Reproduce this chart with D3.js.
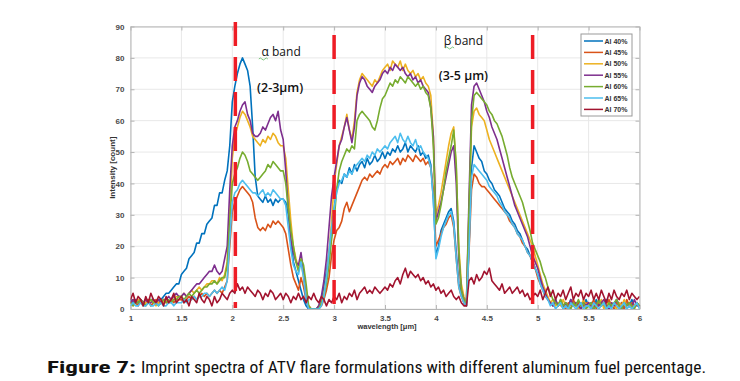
<!DOCTYPE html>
<html><head><meta charset="utf-8">
<script src="https://cdn.jsdelivr.net/npm/d3@7"></script>
<style>html,body{margin:0;padding:0;background:#fff;}svg{display:block;}</style>
</head><body>
<svg id="chart" width="740" height="381"></svg>
<script>
// ---- data ----
const wavelength = d3.range(201).map(i => +(1 + i * 0.025).toFixed(3));
const seriesNames = ["Al 40%","Al 45%","Al 50%","Al 55%","Al 60%","Al 65%","Al 70%"];
const al40 = [3,2,3,2,3,2,3,2,3,3,2,3,3,4,5,5,6,7,8,8,
 11,12,13,16,17,18,21,21,24,24,27,28,29,33,33,37,37,41,44,52,
 66,71,75,78,80,78,76,71,58,42,36,35,34,36,34,35,33,35,34,35,
 35,34,30,22,15,12,9,6,3,1,0,0,0,0,1,3,7,12,18,25,
 32,38,41,40,43,42,45,43,46,44,46,47,45,48,46,47,49,47,48,50,
 48,50,49,51,50,52,50,51,53,50,52,51,50,52,49,50,48,49,46,35,
 17,20,25,27,29,31,32,28,18,8,5,2,1,20,45,52,50,48,47,44,
 43,41,40,38,37,36,34,32,31,30,28,27,25,24,22,20,19,17,15,13,
 11,9,7,5,3,2,1,3,1,2,0,2,1,3,1,2,0,2,1,3,
 1,2,0,3,1,2,1,3,0,2,1,3,1,2,0,2,1,3,1,2,
 1];
const al45 = [2,3,2,1,3,2,2,3,1,2,3,2,2,3,2,2,3,2,3,3,
 3,2,3,4,3,4,3,4,5,4,5,4,5,6,5,6,5,7,9,20,
 31,34,36,38,39,38,37,36,34,29,26,25,26,25,27,26,28,27,28,27,
 26,24,19,14,10,8,6,10,7,3,1,0,0,0,0,1,3,6,10,17,
 22,25,26,28,32,34,31,33,35,37,39,41,42,41,43,42,43,44,43,45,
 46,45,47,46,47,48,46,48,47,49,48,47,49,48,47,48,46,47,45,38,
 20,22,24,26,27,29,30,26,16,7,4,2,1,18,38,43,42,40,39,39,
 38,37,36,35,34,33,32,31,30,28,27,26,24,23,21,20,18,17,15,13,
 10,8,6,4,3,2,1,2,1,3,1,0,2,1,3,1,2,0,1,2,
 2,1,3,0,2,1,2,1,3,1,0,2,1,2,0,3,1,2,1,2,
 1];
const al50 = [2,1,2,3,2,1,2,2,3,2,1,2,3,2,3,2,3,3,4,4,
 4,5,4,5,6,5,6,7,6,7,8,8,9,9,8,10,9,11,15,30,
 48,55,58,61,63,62,60,58,55,54,53,52,54,53,55,54,56,55,53,52,
 52,48,38,28,20,16,13,15,10,4,1,0,0,0,1,2,5,10,18,28,
 40,46,52,55,58,62,57,54,60,69,73,75,74,73,72,71,73,72,74,76,
 77,78,76,79,78,77,79,76,78,76,75,76,74,75,73,74,72,71,68,55,
 30,33,37,42,47,52,56,58,45,20,8,4,2,30,58,63,64,62,61,60,
 57,54,52,50,48,46,44,42,40,38,36,34,32,30,28,26,24,22,20,17,
 14,11,8,6,4,2,3,1,2,1,3,1,0,2,1,2,0,1,3,1,
 2,0,1,2,1,3,0,2,1,2,1,0,2,1,3,1,2,0,1,2,
 1];
const al55 = [2,3,2,2,3,2,3,2,2,3,2,3,2,3,3,4,3,4,5,4,
 4,5,4,5,6,7,8,8,9,10,11,12,12,14,12,11,12,16,20,38,
 52,58,60,63,65,66,62,60,56,55,55,56,58,57,59,61,62,60,63,57,
 54,44,32,22,18,15,14,18,12,3,0,0,0,0,1,4,9,16,26,36,
 42,47,52,54,58,61,57,53,58,68,72,74,73,71,70,69,71,72,73,75,
 76,75,77,76,78,77,76,77,75,74,75,73,74,72,73,71,70,69,64,55,
 28,31,34,38,42,46,50,52,40,16,6,3,2,35,65,71,72,70,68,66,
 63,61,58,56,54,51,48,45,42,39,36,33,31,29,27,25,23,20,17,15,
 13,10,7,5,3,2,1,3,1,2,1,2,0,3,1,2,1,0,2,1,
 2,1,0,2,1,2,3,1,0,2,1,3,1,0,2,1,2,1,3,1,
 1];
const al60 = [2,1,2,2,3,2,1,2,3,2,2,1,2,3,2,3,2,3,3,4,
 4,3,4,5,4,5,6,5,6,7,7,8,8,9,8,9,10,10,14,28,
 40,43,45,48,50,49,47,44,43,42,41,42,43,44,46,45,47,46,45,44,
 44,40,32,25,20,15,12,16,14,8,1,0,0,0,0,2,4,8,14,22,
 28,38,44,47,49,51,50,52,51,60,62,63,62,61,60,58,57,60,64,67,
 68,70,72,71,73,72,74,73,72,74,73,72,71,72,70,71,69,68,64,52,
 27,29,33,38,44,48,52,57,46,18,6,3,2,32,60,68,69,68,67,66,
 65,63,62,60,59,57,55,52,49,45,42,40,38,36,34,31,28,25,21,19,
 17,15,12,10,7,5,3,2,1,3,1,2,1,0,2,1,3,1,2,0,
 1,2,0,1,3,1,2,0,2,1,2,3,1,0,2,1,2,1,0,2,
 1];
const al65 = [1,2,1,1,2,1,1,2,1,1,2,1,2,1,1,2,2,1,2,2,
 2,3,2,3,3,4,3,4,4,5,5,4,5,6,5,6,7,6,9,22,
 34,37,38,40,41,40,39,38,37,37,36,37,38,36,37,36,38,37,36,35,
 35,33,26,19,14,12,11,15,10,3,0,0,0,0,0,1,4,10,18,26,
 32,37,40,41,43,42,44,43,45,46,47,48,47,49,48,50,49,51,50,51,
 52,51,53,54,55,53,56,54,53,55,53,52,54,51,52,50,49,48,45,35,
 16,19,23,26,28,30,31,27,16,7,4,2,1,19,42,46,45,44,43,42,
 41,39,38,37,36,34,33,31,30,29,27,26,24,23,22,20,18,17,15,13,
 11,8,6,4,3,1,2,0,1,2,0,1,0,2,1,0,1,2,0,1,
 1,0,2,1,0,1,2,0,1,0,2,1,0,1,2,0,1,0,1,2,
 0];
const al70 = [3,5,2,4,3,1,4,2,5,3,2,4,3,1,4,2,3,5,2,3,
 4,2,3,1,4,3,2,5,3,2,4,3,1,4,2,3,5,4,3,5,
 6,5,8,6,7,5,7,6,5,4,6,5,3,5,4,6,5,3,4,5,
 3,5,4,2,4,3,5,3,4,2,4,3,5,3,2,4,3,1,3,2,
 4,3,5,2,4,3,5,4,6,3,5,6,7,5,6,5,7,6,5,6,
 7,6,8,7,9,10,8,11,13,10,12,11,10,11,9,10,8,9,7,8,
 6,7,5,6,4,5,6,4,3,4,2,1,1,9,10,8,11,9,10,12,
 11,13,9,8,7,6,8,5,6,7,5,6,7,5,6,4,5,3,4,5,
 4,6,3,5,7,4,6,3,5,4,6,3,5,7,3,5,4,6,3,5,
 4,6,3,5,3,6,4,2,5,3,6,4,3,5,4,6,3,5,4,3,
 4];
const xTicks = [1,1.5,2,2.5,3,3.5,4,4.5,5,5.5,6];
const yTicks = [0,10,20,30,40,50,60,70,80,90];
const bandLines = [2.03, 3.0, 4.95];
const caption = ["Figure 7:", "Imprint spectra of ATV flare formulations with different aluminum fuel percentage."];

// ---- layout / style ----
const colors = ["#0072BD","#D95319","#EDB120","#7E2F8E","#77AC30","#4DBEEE","#A2142F"];
const allSeries = [al40, al45, al50, al55, al60, al65, al70];
const svg = d3.select("#chart");
const L = 130.5, R = 639.5, T = 26.5, B = 309;
const x = d3.scaleLinear().domain([1, 6]).range([L, R]);
const y = d3.scaleLinear().domain([0, 90]).range([B, T]);

svg.append("rect").attr("width", 740).attr("height", 381).attr("fill", "#fff");

// grid
const g = svg.append("g");
g.selectAll(".vg").data(xTicks).join("line")
  .attr("x1", d => x(d)).attr("x2", d => x(d)).attr("y1", T).attr("y2", B)
  .attr("stroke", "#e8e8e8").attr("stroke-width", 1);
g.selectAll(".hg").data(yTicks).join("line")
  .attr("x1", L).attr("x2", R).attr("y1", d => y(d)).attr("y2", d => y(d))
  .attr("stroke", "#e8e8e8").attr("stroke-width", 1);

// axes (inward ticks)
const axStyle = sel => {
  sel.selectAll(".domain").attr("stroke", "#b5b5b5");
  sel.selectAll(".tick line").attr("stroke", "#b5b5b5");
  sel.selectAll(".tick text").attr("fill", "#4a4a4a").attr("font-size", "8px")
    .attr("font-weight", "bold").attr("font-family", "'Liberation Sans', Arial, sans-serif");
};
svg.append("g").attr("transform", `translate(0,${B})`)
  .call(d3.axisBottom(x).tickValues(xTicks).tickSize(-4).tickPadding(6).tickSizeOuter(0).tickFormat(d3.format("")))
  .call(axStyle);
svg.append("g").attr("transform", `translate(${L},0)`)
  .call(d3.axisLeft(y).tickValues(yTicks).tickSize(-4).tickPadding(6).tickSizeOuter(0))
  .call(axStyle);
svg.append("g").attr("transform", `translate(0,${T})`)
  .call(d3.axisTop(x).tickValues(xTicks).tickSize(-4).tickSizeOuter(0).tickFormat(""))
  .call(axStyle);
svg.append("g").attr("transform", `translate(${R},0)`)
  .call(d3.axisRight(y).tickValues(yTicks).tickSize(-4).tickSizeOuter(0).tickFormat(""))
  .call(axStyle);

// series
svg.append("clipPath").attr("id", "clip").append("rect")
  .attr("x", L).attr("y", T).attr("width", R - L).attr("height", B - T);
const line = d3.line().x((d, i) => x(wavelength[i])).y(d => y(d));
svg.append("g").attr("clip-path", "url(#clip)")
  .selectAll("path").data(allSeries).join("path")
  .attr("d", d => line(d)).attr("fill", "none")
  .attr("stroke", (d, i) => colors[i]).attr("stroke-width", 1.6)
  .attr("stroke-linejoin", "round");

// band boundary dashed lines
svg.selectAll(".band").data(bandLines).join("line")
  .attr("x1", d => x(d)).attr("x2", d => x(d))
  .attr("y1", (d, i) => i === 0 ? 22 : 35).attr("y2", 308)
  .attr("stroke", "#ee1c25").attr("stroke-width", 3.5).attr("stroke-dasharray", "24,11");

// annotations
const ann = svg.append("g").attr("font-family", "'Open Sans', 'Noto Sans', sans-serif").attr("fill", "#111").attr("text-anchor", "middle");
ann.append("text").attr("x", x(2.48)).attr("y", 56).attr("font-size", "12px").text("α band");
ann.append("text").attr("x", x(2.47)).attr("y", 92).attr("font-size", "12.5px").attr("font-weight", "600").text("(2-3μm)");
ann.append("text").attr("x", x(4.27)).attr("y", 45).attr("font-size", "12px").text("β band");
ann.append("text").attr("x", x(4.27)).attr("y", 80).attr("font-size", "12.5px").attr("font-weight", "600").text("(3-5 μm)");
// spell-check squiggles
[[x(2.3), 59], [x(4.13), 48]].forEach(p => {
  ann.append("path").attr("d", `M${p[0]-4},${p[1]} q1.5,-2 3,0 q1.5,2 3,0 q1.5,-2 3,0`)
    .attr("fill", "none").attr("stroke", "#5cb85c").attr("stroke-width", 0.8);
});

// axis labels
svg.append("text").attr("x", x(3.52)).attr("y", 329).attr("text-anchor", "middle")
  .attr("font-size", "7.5px").attr("font-weight", "bold").attr("fill", "#333")
  .attr("font-family", "'Liberation Sans', Arial, sans-serif").text("wavelength [μm]");
svg.append("text").attr("transform", `translate(115,${y(45)}) rotate(-90)`).attr("text-anchor", "middle")
  .attr("font-size", "8px").attr("font-weight", "bold").attr("fill", "#333")
  .attr("font-family", "'Liberation Sans', Arial, sans-serif").text("Intensity [count]");

// legend
const lg = svg.append("g");
lg.append("rect").attr("x", 581).attr("y", 34).attr("width", 51).attr("height", 82)
  .attr("fill", "#fff").attr("stroke", "#9a9a9a").attr("stroke-width", 1);
seriesNames.forEach((n, i) => {
  const yy = 41 + i * 11.4;
  lg.append("line").attr("x1", 584).attr("x2", 603).attr("y1", yy).attr("y2", yy)
    .attr("stroke", colors[i]).attr("stroke-width", 1.5);
  lg.append("text").attr("x", 604.5).attr("y", yy + 2.6).attr("font-size", "7px").attr("font-weight", "bold")
    .attr("fill", "#333").attr("font-family", "'Liberation Sans', Arial, sans-serif").text(n);
});

// caption
const cap = svg.append("g").attr("font-family", "'Liberation Sans Narrow', 'Roboto Condensed', Roboto, sans-serif")
  .attr("font-size", "17px").attr("fill", "#111");
cap.append("text").attr("x", 47).attr("y", 373).attr("font-weight", "bold")
  .attr("textLength", 89).attr("lengthAdjust", "spacingAndGlyphs").text(caption[0]);
cap.append("text").attr("x", 141).attr("y", 373)
  .attr("textLength", 565).attr("lengthAdjust", "spacingAndGlyphs").text(caption[1]);
</script>
</body></html>
